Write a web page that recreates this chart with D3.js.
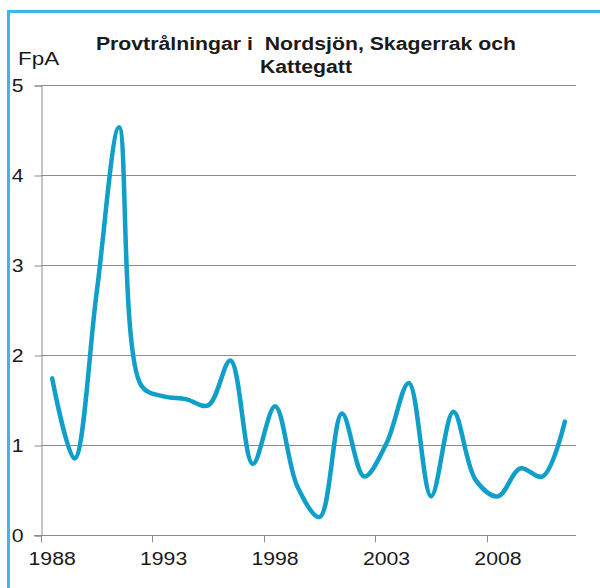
<!DOCTYPE html>
<html>
<head>
<meta charset="utf-8">
<script src="https://cdn.jsdelivr.net/npm/d3@7"></script>
<style>
	body { margin: 0; background: #fff; }
	svg text { font-family: 'Liberation Sans', Arial, sans-serif; fill: #1a1a1a; }
</style>
</head>
<body>
<svg id="chart" width="600" height="588"></svg>
<script>
const years = d3.range(1988, 2012)
const fpa = [1.74, 0.85, 2.7, 4.53, 1.66, 1.54, 1.51, 1.44, 1.94, 0.79, 1.43, 0.54,
	0.2, 1.35, 0.65, 1.02, 1.69, 0.43, 1.37, 0.61, 0.43, 0.74, 0.65, 1.26]
const yTicks = [0, 1, 2, 3, 4, 5]
const xTickYears = [1988, 1993, 1998, 2003, 2008]
const titleLines = ['Provtrålningar i  Nordsjön, Skagerrak och', 'Kattegatt']

const svg = d3.select('#chart')
const plotLeft = 41
const plotRight = 576
const plotTop = 85
const plotBottom = 535
const textStretch = 1.18 // the original's lettering is a bit wider than Arial

// light blue frame (left + top edges)
svg.append('path')
	.attr('d', 'M8.5,588 L8.5,11.5 L600,11.5')
	.style('fill', 'none')
	.style('stroke', '#3bb6ee')
	.style('stroke-width', 3)

const x = d3.scaleBand().domain(years).range([plotLeft, plotRight])
const y = d3.scaleLinear().domain([0, 5]).range([plotBottom, plotTop])

// gridlines
svg.append('g')
	.selectAll('line')
	.data(yTicks.slice(1))
	.join('line')
	.attr('x1', plotLeft)
	.attr('x2', plotRight)
	.attr('y1', (d) => Math.round(y(d)) + 0.5)
	.attr('y2', (d) => Math.round(y(d)) + 0.5)
	.style('stroke', '#8c8c8c')
	.style('stroke-width', 1)

// y axis
const yAxis = svg.append('g')
	.attr('transform', `translate(${plotLeft + 0.5},0.5)`)
	.call(d3.axisLeft(y).tickValues(yTicks).tickSize(7).tickPadding(11).tickFormat(d3.format('d')))
yAxis.select('.domain').attr('stroke', '#8c8c8c')
yAxis.selectAll('.tick line').attr('stroke', '#8c8c8c')
yAxis.selectAll('.tick text').style('font-size', '18px').attr('fill', '#1a1a1a')

// x axis: ticks on category boundaries, labels centered on categories
const xAxis = svg.append('g').attr('transform', `translate(0,${plotBottom + 0.5})`)
xAxis.append('line')
	.attr('x1', plotLeft - 7)
	.attr('x2', plotRight)
	.style('stroke', '#8c8c8c')
xAxis.selectAll('.xtick')
	.data(xTickYears)
	.join('line')
	.attr('class', 'xtick')
	.attr('x1', (d) => Math.round(x(d)) + 0.5)
	.attr('x2', (d) => Math.round(x(d)) + 0.5)
	.attr('y1', 0)
	.attr('y2', 7)
	.style('stroke', '#8c8c8c')
xAxis.selectAll('.xlabel')
	.data(xTickYears)
	.join('text')
	.attr('class', 'xlabel')
	.attr('x', (d) => x(d) + x.bandwidth() / 2)
	.attr('y', 29)
	.attr('text-anchor', 'middle')
	.style('font-size', '18px')
	.text((d) => d)

// data line, smoothed like the spreadsheet original
const line = d3.line()
	.x((d, i) => x(years[i]) + x.bandwidth() / 2)
	.y((d) => y(d))
	.curve(d3.curveCatmullRom.alpha(0.5))

svg.append('path')
	.datum(fpa)
	.attr('d', line)
	.style('fill', 'none')
	.style('stroke', '#0f9fc8')
	.style('stroke-width', 4.5)
	.style('stroke-linejoin', 'round')
	.style('stroke-linecap', 'round')

// title and unit label
svg.append('text')
	.attr('x', 18)
	.attr('y', 65)
	.style('font-size', '19px')
	.text('FpA')

svg.selectAll('.title')
	.data(titleLines)
	.join('text')
	.attr('class', 'title')
	.attr('x', 306)
	.attr('y', (d, i) => 50 + i * 23)
	.attr('text-anchor', 'middle')
	.style('font-size', '18px')
	.style('font-weight', 'bold')
	.style('white-space', 'pre')
	.text((d) => d)

// widen every label to the proportions of the original
svg.selectAll('text').each(function () {
	const w = this.getComputedTextLength()
	d3.select(this)
		.attr('textLength', w * textStretch)
		.attr('lengthAdjust', 'spacingAndGlyphs')
})
</script>
</body>
</html>
